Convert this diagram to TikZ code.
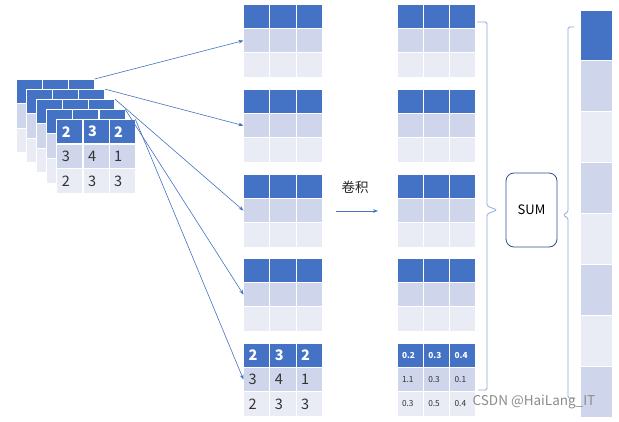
\documentclass[tikz,border=0pt]{standalone}
\usepackage{fontspec}
\setmainfont{Noto Sans CJK SC}
\usetikzlibrary{arrows.meta}
\definecolor{hdb}{HTML}{4472C4}
\definecolor{mdb}{HTML}{CFD5EA}
\definecolor{ltb}{HTML}{E9EBF5}
\definecolor{brk}{HTML}{8EA9DB}
\definecolor{sumb}{HTML}{2F528F}
\definecolor{numtxt}{HTML}{333333}
\tikzset{
  cellbox/.style={draw=white, line width=1.1pt, inner ysep=0pt, inner xsep=5pt,
    outer sep=0pt, anchor=north west, align=left},
  conn/.style={draw=hdb, line width=0.6pt, -{Stealth[length=5pt,width=3.6pt]}},
  brace/.style={draw=brk, line width=0.8pt, rounded corners=1.5pt},
}
% name, x, y, w, h, font, list of col/head/row2/row3
\newcommand\mygrid[7]{%
  \pgfmathsetmacro\mytw{#4-10}%
  \foreach \c/\ta/\tb/\tcc in {#7}{%
    \node[cellbox, fill=hdb, text=white, font=#6\bfseries, minimum width=#4pt,
      text width=\mytw pt, minimum height=#5pt] (#1-1-\c) at ({#2+\c*#4},#3) {\ta};
    \node[cellbox, fill=mdb, text=numtxt, font=#6, minimum width=#4pt,
      text width=\mytw pt, minimum height=#5pt] (#1-2-\c) at ({#2+\c*#4},{#3+#5}) {\tb};
    \node[cellbox, fill=ltb, text=numtxt, font=#6, minimum width=#4pt,
      text width=\mytw pt, minimum height=#5pt] (#1-3-\c) at ({#2+\c*#4},{#3+2*#5}) {\tcc};
  }%
}
\newcommand\bigf{\fontsize{14.5}{14.5}\selectfont}
\newcommand\smallf{\fontsize{8.3}{9}\selectfont}
\begin{document}
\begin{tikzpicture}[x=1pt,y=-1pt]
\useasboundingbox[fill=white] (0,0) rectangle (619,421);
% left stack
\mygrid{s1}{16}{79}{26.2}{24.6}{\bigf}{0/{}/{}/{},1/{}/{}/{},2/{}/{}/{}}
\mygrid{s2}{26.2}{89.1}{26.2}{24.6}{\bigf}{0/{}/{}/{},1/{}/{}/{},2/{}/{}/{}}
\mygrid{s3}{36.4}{99.2}{26.2}{24.6}{\bigf}{0/{}/{}/{},1/{}/{}/{},2/{}/{}/{}}
\mygrid{s4}{46.6}{109.3}{26.2}{24.6}{\bigf}{0/{}/{}/{},1/{}/{}/{},2/{}/{}/{}}
\mygrid{s5}{56.8}{119.4}{26.2}{24.6}{\bigf}{0/2/3/2,1/3/4/3,2/2/1/3}
% middle column
\mygrid{m1}{243.5}{4}{26.3}{24.4}{\bigf}{0/{}/{}/{},1/{}/{}/{},2/{}/{}/{}}
\mygrid{m2}{243.5}{89}{26.3}{24.4}{\bigf}{0/{}/{}/{},1/{}/{}/{},2/{}/{}/{}}
\mygrid{m3}{243.5}{174}{26.3}{24.4}{\bigf}{0/{}/{}/{},1/{}/{}/{},2/{}/{}/{}}
\mygrid{m4}{243.5}{258}{26.3}{24.4}{\bigf}{0/{}/{}/{},1/{}/{}/{},2/{}/{}/{}}
\mygrid{m5}{243.5}{343}{26.3}{24.4}{\bigf}{0/2/3/2,1/3/4/3,2/2/1/3}
% right column of tables
\mygrid{r1}{397}{4}{26.3}{24.4}{\smallf}{0/{}/{}/{},1/{}/{}/{},2/{}/{}/{}}
\mygrid{r2}{397}{89}{26.3}{24.4}{\smallf}{0/{}/{}/{},1/{}/{}/{},2/{}/{}/{}}
\mygrid{r3}{397}{174}{26.3}{24.4}{\smallf}{0/{}/{}/{},1/{}/{}/{},2/{}/{}/{}}
\mygrid{r4}{397}{258}{26.3}{24.4}{\smallf}{0/{}/{}/{},1/{}/{}/{},2/{}/{}/{}}
\mygrid{r5}{397}{343}{26.3}{24.4}{\smallf}{0/0.2/1.1/0.3,1/0.3/0.3/0.5,2/0.4/0.1/0.4}
% arrows from stack to middle tables
\draw[conn] (s1-1-2.north east) -- (m1-2-0.west);
\draw[conn] (s2-1-2.north east) -- (m2-2-0.west);
\draw[conn] (s3-1-2.north east) -- (m3-2-0.west);
\draw[conn] (s4-1-2.north east) -- (m4-2-0.west);
\draw[conn] (s5-1-2.north east) -- (m5-2-0.west);
% convolution label and arrow
\node[font=\fontsize{13.5}{14}\selectfont, text=black!85] (conv) at (355,187) {卷积};
\coordinate (ca) at (336,211);
\coordinate (cb) at (378,211);
\draw[conn] (ca) -- (cb);
% left brace
\draw[brace] (477,22) -- (487,22) -- (487,206) -- (497,210) -- (487,214) -- (487,390) -- (478,390);
% SUM box
\node[draw=sumb, line width=0.8pt, rounded corners=8pt, minimum width=51pt,
  minimum height=74pt, inner sep=0pt, font=\fontsize{13}{13}\selectfont] (sum) at (531.5,210) {SUM};
% right brace
\draw[brace] (574,27) -- (568,27) -- (568,212) -- (563,215) -- (568,218) -- (568,398) -- (574,398);
% right vector
\foreach \i/\col in {1/hdb,2/mdb,3/ltb,4/mdb,5/ltb,6/mdb,7/ltb,8/mdb}{
  \node[cellbox, fill=\col, minimum width=33pt, minimum height=50.9pt] (v\i) at (580,{10+(\i-1)*50.9}) {};
}
% watermark
\node[text=black!45, font=\fontsize{13.5}{14}\selectfont] (wm) at (534,402) {CSDN @HaiLang\_IT};
\end{tikzpicture}
\end{document}
